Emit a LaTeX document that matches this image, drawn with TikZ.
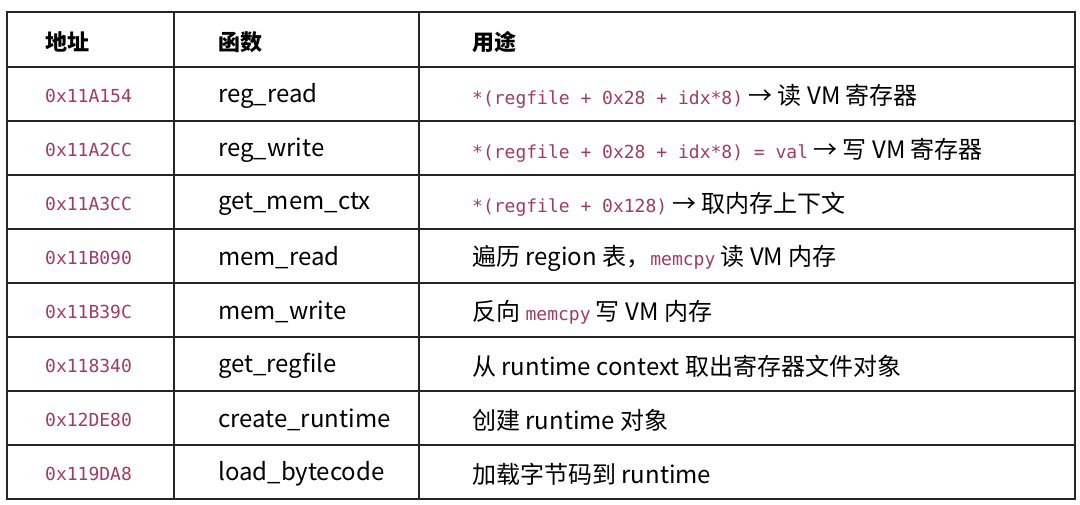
\documentclass[tikz,border=0pt]{standalone}
\usepackage{fontspec}
\setmainfont{Noto Sans CJK SC}
\setmonofont{DejaVu Sans Mono}
\definecolor{codered}{HTML}{A33A64}
\newcommand{\cd}[1]{{\ttfamily\fontsize{18}{21}\selectfont\color{codered}#1}}
\tikzset{
  cell/.style={anchor=west,inner sep=0pt,font=\fontsize{24}{27}\selectfont},
  head/.style={cell,font=\fontsize{22}{25}\selectfont\bfseries},
  grid/.style={line width=1.3pt,black!85}
}
\begin{document}
\begin{tikzpicture}[x=1pt,y=-1pt]
\useasboundingbox (0,0) rectangle (1080,505);
% frame and rules
\draw[grid] (7,12) rectangle (1075,499);
\foreach \y in {67,121,175,229,283,337,391,445}
  \draw[grid] (7,\y) -- (1075,\y);
\draw[grid] (174,12) -- (174,499);
\draw[grid] (419,12) -- (419,499);
% header
\node[head] (h1) at (45,42) {地址};
\node[head] (h2) at (218,42) {函数};
\node[head] (h3) at (472,42) {用途};
% rows
\foreach \i/\a/\f/\u in {
  0/0x11A154/reg\_read/{\cd{*(regfile + 0x28 + idx*8)} → 读 VM 寄存器},
  1/0x11A2CC/reg\_write/{\cd{*(regfile + 0x28 + idx*8) = val} → 写 VM 寄存器},
  2/0x11A3CC/get\_mem\_ctx/{\cd{*(regfile + 0x128)} → 取内存上下文},
  3/0x11B090/mem\_read/{遍历 region 表，\cd{memcpy} 读 VM 内存},
  4/0x11B39C/mem\_write/{反向 \cd{memcpy} 写 VM 内存},
  5/0x118340/get\_regfile/{从 runtime context 取出寄存器文件对象},
  6/0x12DE80/create\_runtime/{创建 runtime 对象},
  7/0x119DA8/load\_bytecode/{加载字节码到 runtime}}{
  \node[cell] (a\i) at (45,{96+54*\i}) {\cd{\a}};
  \node[cell] (f\i) at (218,{96+54*\i}) {\f};
  \node[cell] (u\i) at (472,{96+54*\i}) {\u};
}
\end{tikzpicture}
\end{document}
